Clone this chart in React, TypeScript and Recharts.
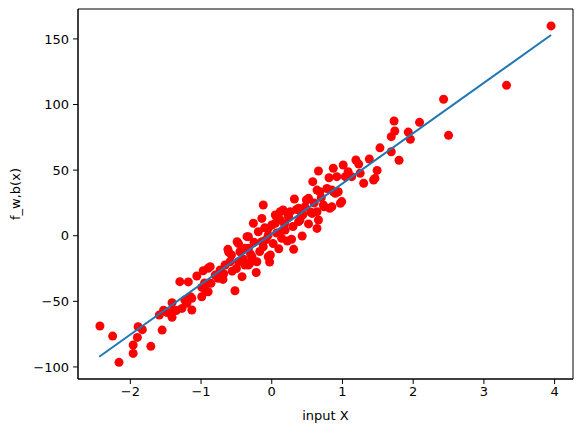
import { ScatterChart, Scatter, XAxis, YAxis, ReferenceArea } from "recharts"

// scatter samples (input X, target)
const xs = [
  -2.43, -2.25, -2.16, -1.96, -1.96, -1.9, -1.89, -1.83, -1.71, -1.55, -1.59, -1.53, -1.48, -1.41, -1.41,
  -1.39, -1.35, -1.27, -1.3, -1.18, -1.23, -1.2, -1.15, -1.13, -1.13, -1.06, -0.99, -0.99, -0.95, -0.97,
  -0.94, -0.87, -0.86, -0.9, -0.8, -0.76, -0.73, -0.69, -0.68, -0.62, -0.61, -0.59, -0.56, -0.52, -0.5,
  -0.49, -0.47, -0.45, -0.42, -0.4, -0.38, -0.35, -0.33, -0.31, -0.3, -0.26, -0.25, -0.22, -0.21, -0.19,
  -0.17, -0.14, -0.12, -0.12, -0.1, -0.08, -0.05, -0.05, -0.03, 0.0, 0.02, 0.05, 0.07, 0.1, 0.12,
  0.14, 0.16, 0.16, 0.18, 0.22, 0.24, 0.26, 0.28, 0.3, 0.31, 0.32, 0.35, 0.38, 0.4, 0.43,
  0.44, 0.47, 0.49, 0.52, 0.55, 0.58, 0.6, 0.64, 0.64, 0.64, 0.66, 0.66, 0.7, 0.74, 0.78,
  0.81, 0.82, 0.85, 0.87, 0.87, 0.9, 0.92, 0.94, 0.97, 0.99, 1.01, 1.04, 1.08, 1.13, 1.19,
  1.23, 1.25, 1.3, 1.38, 1.44, 1.46, 1.49, 1.53, 1.69, 1.69, 1.73, 1.74, 1.8, 1.93, 1.96,
  2.09, 2.43, 2.5, 3.32, 3.95,
  0.52, 0.68, 0.85, 0.73, 0.12, 0.23, 0.42, 0.57, 0.05, 0.38, 0.19, -0.05, -0.33, -0.14, -0.38,
  -0.02, -0.57, -0.28, -0.47, -0.66, -0.9, -0.78, -0.33,
]
const ys = [
  -68.8, -76.5, -96.5, -89.7, -83.3, -77.5, -69.4, -71.6, -84.3, -71.9, -60.4, -56.8, -58.5, -51.0, -62.2,
  -56.6, -57.0, -55.4, -35.0, -35.2, -49.0, -51.5, -46.5, -56.6, -47.7, -30.7, -46.5, -39.4, -36.0, -26.7,
  -41.4, -23.6, -36.3, -42.7, -30.0, -32.5, -26.1, -33.3, -29.0, -10.4, -12.5, -19.8, -27.0, -41.9, -25.0,
  -4.6, -6.0, -12.2, -31.2, -18.0, -22.3, -0.7, -9.6, -21.0, -14.0, 9.5, -5.0, -28.0, -19.8, 3.0,
  -12.0, 13.2, 23.4, -8.4, 6.0, -3.0, 0.5, -16.0, -20.0, 8.2, -6.0, 15.8, 2.0, -10.0, 12.0,
  -2.0, 4.3, 19.6, 9.0, -4.0, 14.0, 18.3, -2.7, 7.0, -10.4, 28.0, 20.0, 20.9, 12.0, -0.2,
  16.0, 22.0, 27.2, 9.0, 18.0, 41.2, 25.0, 34.8, 18.3, 5.6, 49.3, 12.0, 29.0, 22.0, 36.0,
  44.2, 20.9, 22.0, 33.5, 51.4, 32.3, 45.0, 33.5, 24.7, 26.0, 53.9, 45.0, 48.8, 45.0, 57.7,
  54.6, 47.6, 40.0, 58.5, 42.5, 43.7, 49.8, 67.0, 64.0, 75.5, 87.4, 79.8, 57.5, 79.0, 73.5,
  86.4, 104.0, 76.5, 114.6, 159.9,
  28.5, 33.5, 34.8, 23.4, 18.3, 15.8, 15.8, 17.0, 9.5, 10.7, 4.3, 5.6, -0.7, -4.6, -9.6,
  -14.7, -14.7, -16.0, -19.8, -22.3, -24.8, -30.0, -22.3,
]

// fitted line end points
const fitX = [-2.44, 3.95]
const fitY = [-92.2, 153.0]

const xTicks = [-2, -1, 0, 1, 2, 3, 4]
const yTicks = [-100, -50, 0, 50, 100, 150]

const X_DOMAIN = [-2.74, 4.26]
const Y_DOMAIN = [-109.2, 172.8]

const points = xs.map((x, i) => ({ x, y: ys[i] }))
const fitLine = fitX.map((x, i) => ({ x, y: fitY[i] }))

const fmt = (v: number) => String(v).replace("-", "\u2212")

const Dot = (props: any) => <circle cx={props.cx} cy={props.cy} r={4.5} fill="#ff0000" />
const NoDot = () => <g />

export default function App() {
  return (
    <div style={{ position: "absolute", left: 0, top: 0 }}>
      <ScatterChart
        width={583}
        height={432}
        margin={{ top: 9, right: 10, bottom: 0, left: 0 }}
        style={{ fontFamily: "DejaVu Sans, sans-serif" }}
      >
        <XAxis
          type="number"
          dataKey="x"
          domain={X_DOMAIN}
          ticks={xTicks}
          allowDataOverflow
          height={53}
          tickFormatter={fmt}
          tick={{ fill: "#000", fontSize: 13 }}
          tickLine={{ stroke: "#000" }}
          axisLine={{ stroke: "#000" }}
          tickSize={5}
          tickMargin={3}
          label={{ value: "input X", position: "insideBottom", offset: 12, fill: "#000", fontSize: 13 }}
        />
        <YAxis
          type="number"
          dataKey="y"
          domain={Y_DOMAIN}
          ticks={yTicks}
          allowDataOverflow
          width={78}
          tickFormatter={fmt}
          tick={{ fill: "#000", fontSize: 13 }}
          tickLine={{ stroke: "#000" }}
          axisLine={{ stroke: "#000" }}
          tickSize={5}
          tickMargin={4}
          label={{
            value: "f_w,b(x)",
            angle: -90,
            position: "insideLeft",
            offset: 15,
            fill: "#000",
            fontSize: 13,
            style: { textAnchor: "middle" },
          }}
        />
        <ReferenceArea
          x1={X_DOMAIN[0]}
          x2={X_DOMAIN[1]}
          y1={Y_DOMAIN[0]}
          y2={Y_DOMAIN[1]}
          fill="none"
          stroke="#000"
          strokeWidth={1}
          ifOverflow="visible"
        />
        <Scatter data={points} shape={Dot} isAnimationActive={false} />
        <Scatter
          data={fitLine}
          shape={NoDot}
          line={{ stroke: "#1f77b4", strokeWidth: 2 }}
          isAnimationActive={false}
        />
      </ScatterChart>
    </div>
  )
}
